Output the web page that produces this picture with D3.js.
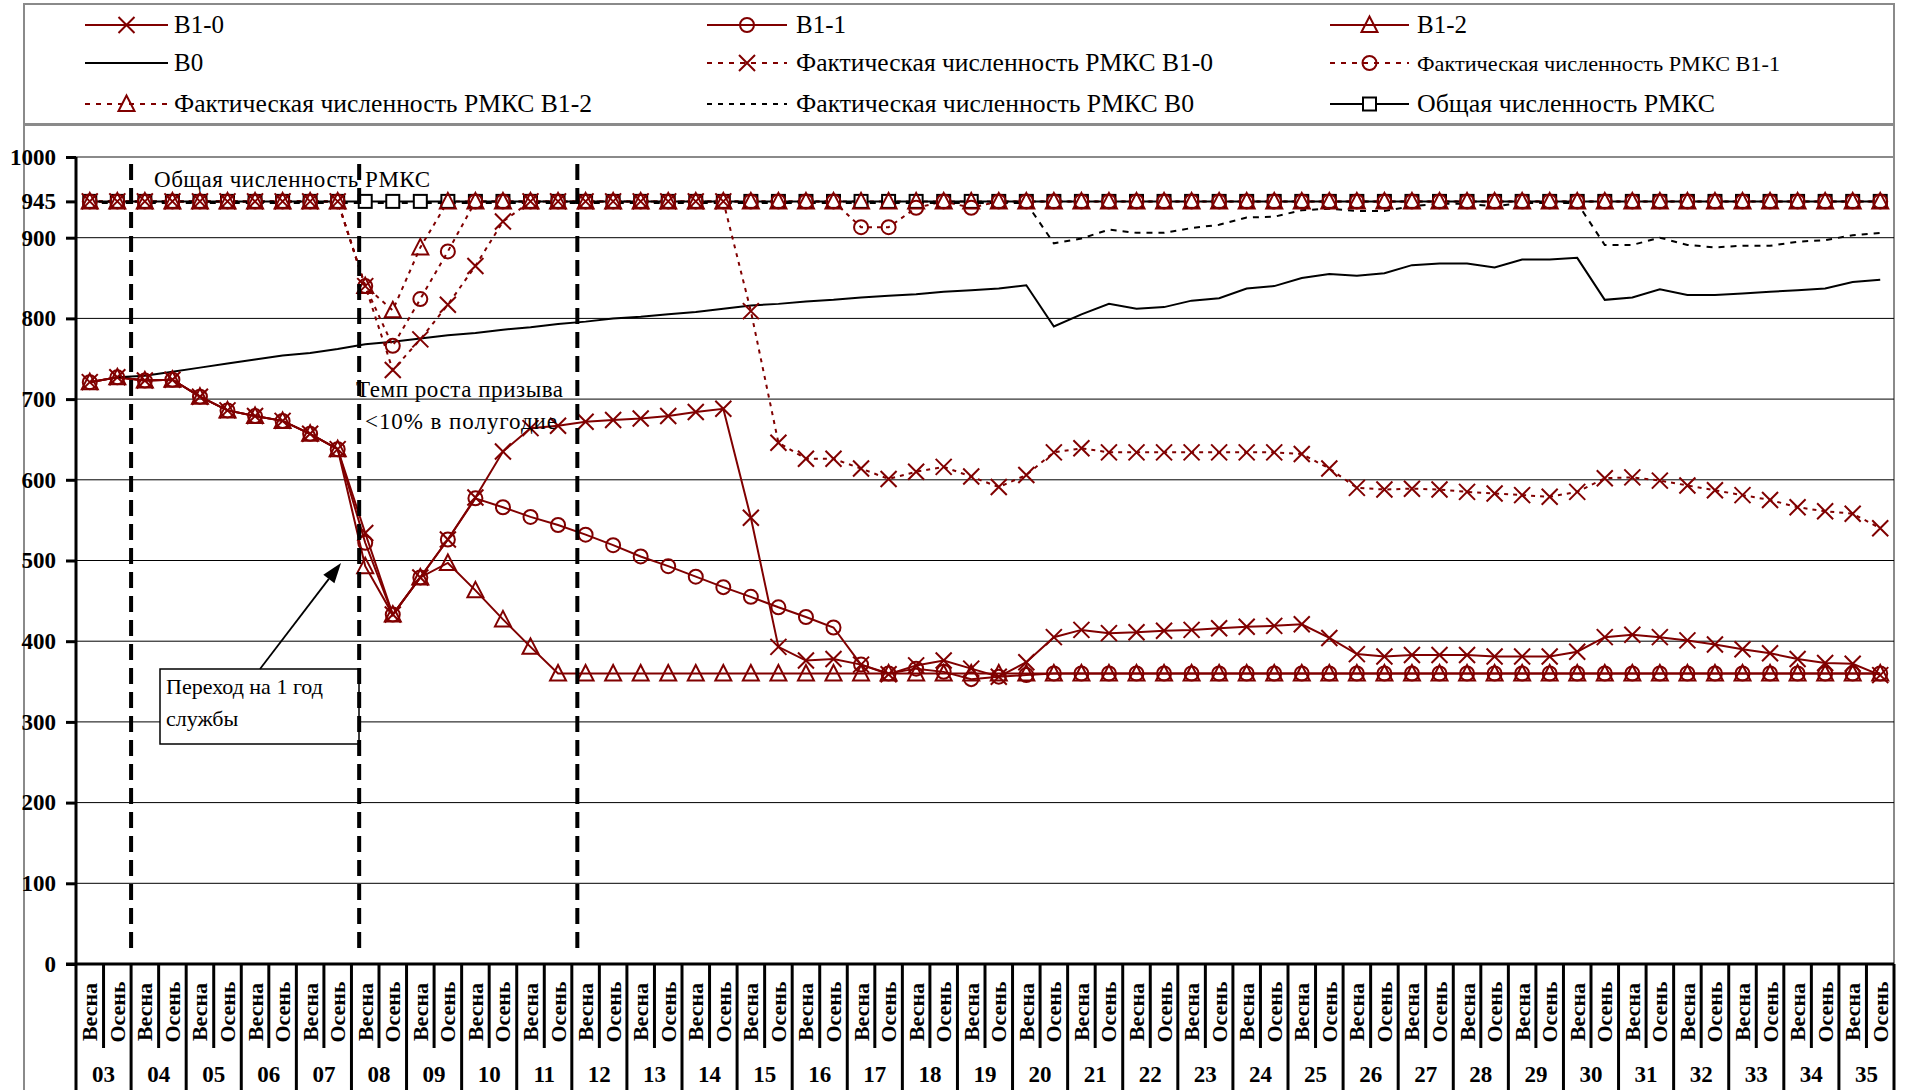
<!DOCTYPE html>
<html><head><meta charset="utf-8">
<script src="https://cdn.jsdelivr.net/npm/d3@7"></script>
<style>
body{margin:0;background:#fff;}
svg{display:block;}
text{font-family:"Liberation Serif","Times New Roman",serif;fill:#000;}
</style>
</head><body>
<svg id="chart" width="1906" height="1090"></svg>
<script>
// ---------------- DATA ----------------
const years = ["03","04","05","06","07","08","09","10","11","12","13","14","15","16","17","18","19","20","21","22","23","24","25","26","27","28","29","30","31","32","33","34","35"];
const seasons = ["Весна","Осень"];
const yTicks = [0,100,200,300,400,500,600,700,800,900,945,1000];

const seriesNames = ["В1-0","В1-1","В1-2","В0",
  "Фактическая численность РМКС В1-0","Фактическая численность РМКС В1-1",
  "Фактическая численность РМКС В1-2","Фактическая численность РМКС В0",
  "Общая численность РМКС"];

const b1_0 = [721,727,723,724,703,686,679,673,657,638,
  534,433,479,526,578,635,664,667,672,674,
  676,679,684,688,553,393,376,378,371,359,
  370,376,366,356,374,405,414,410,411,413,
  414,416,418,419,421,404,384,381,383,383,
  383,381,381,381,387,405,408,405,401,396,
  390,385,378,373,372,358];
const b1_1 = [721,727,723,724,703,686,679,673,657,638,
  522,433,479,526,577,566,554,544,532,519,
  505,493,480,467,455,442,430,417,371,360,
  366,362,353,356,358,360,360,360,360,360,
  360,360,360,360,360,360,360,360,360,360,
  360,360,360,360,360,360,360,360,360,360,
  360,360,360,360,360,360];
const b1_2 = [721,727,723,724,703,686,679,673,657,638,
  493,433,479,497,463,427,393,360,360,360,
  360,360,360,360,360,360,360,360,360,360,
  360,360,360,360,360,360,360,360,360,360,
  360,360,360,360,360,360,360,360,360,360,
  360,360,360,360,360,360,360,360,360,360,
  360,360,360,360,360,360];
const b0 = [null,727,729,734,739,744,749,754,757,762,
  768,771,775,779,782,786,789,793,796,800,
  802,805,808,812,816,818,821,823,826,828,
  830,833,835,837,841,790,805,818,812,814,
  822,825,837,840,850,855,853,856,866,868,
  868,863,873,873,875,823,826,836,829,829,
  831,833,835,837,845,848];
const factB1_0 = [945,945,945,945,945,945,945,945,945,945,
  840,736,774,817,865,920,945,945,945,945,
  945,945,945,945,809,646,626,626,614,601,
  610,616,604,591,606,634,639,634,634,634,
  634,634,634,634,632,614,590,588,589,588,
  585,583,581,579,585,602,603,599,593,587,
  581,575,566,561,558,540];
const factB1_1 = [945,945,945,945,945,945,945,945,945,945,
  840,766,824,883,945,945,945,945,945,945,
  945,945,945,945,945,945,945,945,913,913,
  937,945,937,945,945,945,945,945,945,945,
  945,945,945,945,945,945,945,945,945,945,
  945,945,945,945,945,945,945,945,945,945,
  945,945,945,945,945,945];
const factB1_2 = [945,945,945,945,945,945,945,945,945,945,
  840,810,888,945,945,945,945,945,945,945,
  945,945,945,945,945,945,945,945,945,945,
  945,945,945,945,945,945,945,945,945,945,
  945,945,945,945,945,945,945,945,945,945,
  945,945,945,945,945,945,945,945,945,945,
  945,945,945,945,945,945];
const factB0 = [943,943,943,943,943,943,943,943,943,943,
  943,943,943,943,943,943,943,943,943,943,
  943,943,943,943,943,943,943,943,943,943,
  943,943,943,943,943,893,899,910,906,906,
  912,916,925,926,934,936,933,933,939,942,
  942,939,943,943,943,891,891,900,891,888,
  890,890,895,897,903,906];
const total = [945,945,945,945,945,945,945,945,945,945,
  945,945,945,945,945,945,945,945,945,945,
  945,945,945,945,945,945,945,945,945,945,
  945,945,945,945,945,945,945,945,945,945,
  945,945,945,945,945,945,945,945,945,945,
  945,945,945,945,945,945,945,945,945,945,
  945,945,945,945,945,945];

// ---------------- SETUP ----------------
const RED = "#800000";
const svg = d3.select("#chart");
const cats = years.flatMap(yr => seasons.map(s => yr + " " + s));
const plotL = 76, plotR = 1894, yTopPx = 157, yBotPx = 964;

const x = d3.scaleBand().domain(cats).range([plotL, plotR]).padding(0);
const bw = x.bandwidth();
const cx = c => x(c) + bw / 2;
const y = d3.scaleLinear().domain([0, 1000]).range([yBotPx, yTopPx]);

// outer borders
svg.append("rect").attr("x", 24).attr("y", 125).attr("width", 1870).attr("height", 1000)
  .attr("fill", "none").attr("stroke", "#8a8a8a").attr("stroke-width", 2);

// gridlines
const gridVals = [100,200,300,400,500,600,700,800,900];
svg.append("g").selectAll("line").data(gridVals).join("line")
  .attr("x1", plotL).attr("x2", plotR)
  .attr("y1", d => y(d)).attr("y2", d => y(d))
  .attr("stroke", "#000").attr("stroke-width", 1);
svg.append("line").attr("x1", plotL).attr("x2", plotR).attr("y1", y(1000)).attr("y2", y(1000))
  .attr("stroke", "#8a8a8a").attr("stroke-width", 2);

// y axis
const yAxis = d3.axisLeft(y).tickValues(yTicks).tickSize(10).tickPadding(10).tickFormat(d3.format("d"));
const yg = svg.append("g").attr("transform", `translate(${plotL},0)`).call(yAxis);
yg.select(".domain").remove();
yg.selectAll(".tick line").attr("stroke", "#000").attr("stroke-width", 3);
yg.selectAll(".tick text").attr("font-family", "Liberation Serif").attr("font-weight", "bold")
  .attr("font-size", 23).attr("fill", "#000");

// callout box
svg.append("rect").attr("x", 160).attr("y", 669).attr("width", 199).attr("height", 75)
  .attr("fill", "#fff").attr("stroke", "#000").attr("stroke-width", 1.5);

// ---------------- SERIES ----------------
const seriesData = [b1_0, b1_1, b1_2, b0, factB1_0, factB1_1, factB1_2, factB0, total];
const styles = [
  {color: RED, dash: null, marker: "x"},
  {color: RED, dash: null, marker: "circle"},
  {color: RED, dash: null, marker: "triangle"},
  {color: "#000", dash: null, marker: null},
  {color: RED, dash: "4,5", marker: "x"},
  {color: RED, dash: "4,5", marker: "circle"},
  {color: RED, dash: "4,5", marker: "triangle"},
  {color: "#000", dash: "6,6", marker: null},
  {color: "#000", dash: null, marker: "square"}
];

const lineGen = d3.line().defined(d => d.v != null).x(d => cx(d.c)).y(d => y(d.v));
const lineLayer = svg.append("g");
const markerLayer = svg.append("g");

function drawMarker(g, type, px, py, color) {
  if (type === "x") {
    g.append("path").attr("d", `M${px-8},${py-8}L${px+8},${py+8}M${px-8},${py+8}L${px+8},${py-8}`)
      .attr("stroke", color).attr("stroke-width", 2).attr("fill", "none");
  } else if (type === "circle") {
    g.append("circle").attr("cx", px).attr("cy", py).attr("r", 7)
      .attr("stroke", color).attr("stroke-width", 2).attr("fill", "none");
  } else if (type === "triangle") {
    g.append("path").attr("d", `M${px},${py-8.5}L${px+8},${py+7}L${px-8},${py+7}Z`)
      .attr("stroke", color).attr("stroke-width", 2).attr("fill", "none");
  } else if (type === "square") {
    g.append("rect").attr("x", px-6.5).attr("y", py-6.5).attr("width", 13).attr("height", 13)
      .attr("stroke", color).attr("stroke-width", 2).attr("fill", "#fff");
  }
}

seriesData.forEach((arr, si) => {
  const st = styles[si];
  const pts = arr.map((v, i) => ({c: cats[i], v}));
  lineLayer.append("path").datum(pts).attr("d", lineGen)
    .attr("fill", "none").attr("stroke", st.color).attr("stroke-width", 2)
    .attr("stroke-dasharray", st.dash);
});
const markerOrder = [8, 0, 1, 2, 4, 5, 6];
markerOrder.forEach(si => {
  const st = styles[si];
  seriesData[si].forEach((v, i) => {
    if (v == null) return;
    drawMarker(markerLayer, st.marker, cx(cats[i]), y(v), st.color);
  });
});

// ---------------- X AXIS ----------------
const xa = svg.append("g");
xa.append("line").attr("x1", 66).attr("x2", plotR).attr("y1", yBotPx).attr("y2", yBotPx)
  .attr("stroke", "#000").attr("stroke-width", 3);
xa.append("line").attr("x1", plotL).attr("x2", plotL).attr("y1", yTopPx).attr("y2", 1090)
  .attr("stroke", "#000").attr("stroke-width", 3);
cats.forEach((c, i) => {
  const bx = x(c) + bw;
  const isYear = (i % 2 === 1);
  xa.append("line").attr("x1", bx).attr("x2", bx).attr("y1", yBotPx).attr("y2", isYear ? 1090 : 1048)
    .attr("stroke", "#000").attr("stroke-width", 3);
  const sx = cx(c) + 7.5, sy = 1012;
  xa.append("text").attr("transform", `translate(${sx},${sy}) rotate(-90)`)
    .attr("text-anchor", "middle").attr("font-weight", "bold").attr("font-size", 22)
    .text(c.split(" ")[1]);
});
years.forEach(yr => {
  const xc = x(yr + " " + seasons[0]) + bw;
  xa.append("text").attr("x", xc).attr("y", 1082).attr("text-anchor", "middle")
    .attr("font-weight", "bold").attr("font-size", 23).text(yr);
});

// ---------------- ANNOTATIONS ----------------
const ann = svg.append("g");
const dividers = [{cat: "04 Весна", f: 0.0}, {cat: "08 Весна", f: 0.28}, {cat: "12 Весна", f: 0.2}];
dividers.forEach(d => {
  const dx = x(d.cat) + d.f * bw;
  ann.append("line").attr("x1", dx).attr("x2", dx).attr("y1", 164).attr("y2", yBotPx - 8)
    .attr("stroke", "#000").attr("stroke-width", 4).attr("stroke-dasharray", "16,8");
});

ann.append("text").attr("x", 154).attr("y", 187).attr("font-size", 23)
  .attr("textLength", 276).attr("lengthAdjust", "spacing").text("Общая численность РМКС");
ann.append("text").attr("x", 356).attr("y", 397).attr("font-size", 23)
  .attr("textLength", 207).attr("lengthAdjust", "spacing").text("Темп роста призыва");
ann.append("text").attr("x", 365).attr("y", 429).attr("font-size", 23)
  .attr("textLength", 192).attr("lengthAdjust", "spacing").text("<10% в полугодие");

ann.append("text").attr("x", 166).attr("y", 694).attr("font-size", 22).text("Переход на 1 год");
ann.append("text").attr("x", 166).attr("y", 726).attr("font-size", 22).text("службы");

const ax1 = 260, ay1 = 669, ax2 = 341, ay2 = 563;
const ang = Math.atan2(ay2 - ay1, ax2 - ax1);
const hl = 20, hw = 7;
const bxp = ax2 - hl * Math.cos(ang), byp = ay2 - hl * Math.sin(ang);
ann.append("line").attr("x1", ax1).attr("y1", ay1).attr("x2", bxp).attr("y2", byp)
  .attr("stroke", "#000").attr("stroke-width", 1.8);
ann.append("path").attr("d",
  `M${ax2},${ay2}L${bxp + hw*Math.sin(ang)},${byp - hw*Math.cos(ang)}L${bxp - hw*Math.sin(ang)},${byp + hw*Math.cos(ang)}Z`)
  .attr("fill", "#000");

// ---------------- LEGEND ----------------
const lg = svg.append("g");
lg.append("rect").attr("x", 24).attr("y", 4).attr("width", 1870).attr("height", 120)
  .attr("fill", "#fff").attr("stroke", "#8a8a8a").attr("stroke-width", 2);
const colX = [[85, 168, 174], [707, 787, 796], [1330, 1409, 1417]];
const rowY = [25, 63, 104];
// widths of the longer legend labels, as measured on the reference
const legendWidths = [null, null, null, null, 417, 363, 418, 398, 298];
seriesNames.forEach((name, si) => {
  const r = Math.floor(si / 3), c = si % 3;
  const st = styles[si];
  const [x1, x2, tx] = colX[c];
  const yy = rowY[r];
  lg.append("line").attr("x1", x1).attr("x2", x2).attr("y1", yy).attr("y2", yy)
    .attr("stroke", st.color).attr("stroke-width", 2).attr("stroke-dasharray", st.dash ? "5,6" : null);
  if (st.marker) drawMarker(lg, st.marker, (x1 + x2) / 2, yy, st.color);
  const t = lg.append("text").attr("x", tx).attr("y", yy + 8)
    .attr("font-size", (si === 5) ? 22 : 25).text(name);
  if (legendWidths[si]) t.attr("textLength", legendWidths[si]).attr("lengthAdjust", "spacingAndGlyphs");
});
</script>
</body></html>
